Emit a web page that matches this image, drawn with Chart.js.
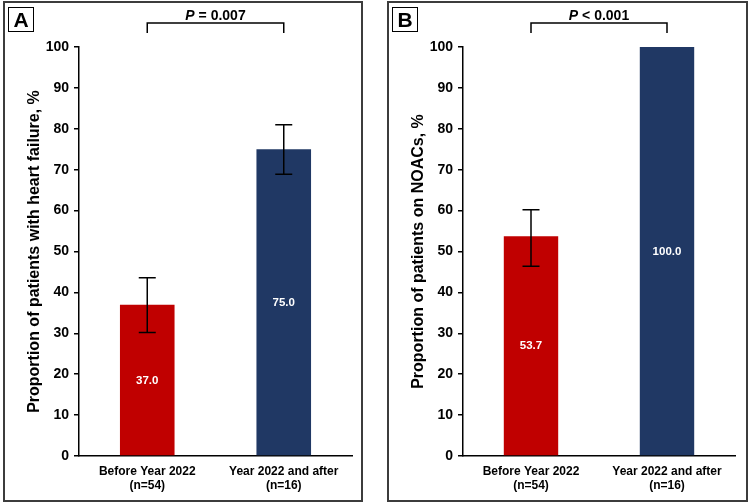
<!DOCTYPE html>
<html>
<head>
<meta charset="utf-8">
<script src="https://cdn.jsdelivr.net/npm/chart.js@4.4.1/dist/chart.umd.min.js"></script>
<style>
body { margin: 0; background: #fff; width: 750px; height: 504px; position: relative; overflow: hidden; font-family: "Liberation Sans", Arial, sans-serif; }
.panel { position: absolute; top: 1px; height: 497px; border: 2px solid #3c3c3c; background: #fff; }
#pa { left: 3px; width: 356px; }
#pb { left: 387px; width: 357px; }
.panel canvas { position: absolute; left: 0; top: 0; }
.tag { position: absolute; left: 3px; top: 4px; width: 24px; height: 23px; border: 1.5px solid #000; font-weight: bold; font-size: 21px; line-height: 24px; text-align: center; z-index: 2; }
</style>
</head>
<body>
<div class="panel" id="pa"><div class="tag">A</div><canvas id="chartA" width="356" height="497"></canvas></div>
<div class="panel" id="pb"><div class="tag">B</div><canvas id="chartB" width="357" height="497"></canvas></div>
<script>
var categories = [['Before Year 2022', '(n=54)'], ['Year 2022 and after', '(n=16)']];
var barColors = ['rgb(192, 0, 0)', 'rgb(32, 56, 100)'];

// panel A - heart failure
var hfValues = [37.0, 75.0];
var hfLow = [30.2, 68.9];
var hfHigh = [43.6, 81.0];
var hfP = '= 0.007';

// panel B - NOACs
var noacValues = [53.7, 100.0];
var noacLow = [46.4, null];
var noacHigh = [60.2, null];
var noacP = '< 0.001';

var yTicks = [0, 10, 20, 30, 40, 50, 60, 70, 80, 90, 100];

var FONT = '"Liberation Sans", Arial, sans-serif';

var extras = {
    id: 'extras',
    afterDatasetsDraw: function(chart, args, opts) {
        var ctx = chart.ctx;
        var xs = chart.scales.x, ys = chart.scales.y;
        var meta = chart.getDatasetMeta(0);
        ctx.save();
        ctx.strokeStyle = '#000';
        ctx.lineWidth = 1.5;
        // error bars
        opts.low.forEach(function(lo, i) {
            if (lo === null) return;
            var x = meta.data[i].x;
            var y1 = ys.getPixelForValue(lo), y2 = ys.getPixelForValue(opts.high[i]);
            ctx.beginPath();
            ctx.moveTo(x, y1); ctx.lineTo(x, y2);
            ctx.moveTo(x - 8.5, y1); ctx.lineTo(x + 8.5, y1);
            ctx.moveTo(x - 8.5, y2); ctx.lineTo(x + 8.5, y2);
            ctx.stroke();
        });
        // value labels in the middle of the bars
        ctx.fillStyle = '#fff';
        ctx.font = 'bold 11.5px ' + FONT;
        ctx.textAlign = 'center';
        ctx.textBaseline = 'middle';
        opts.values.forEach(function(v, i) {
            ctx.fillText(v.toFixed(1), meta.data[i].x, ys.getPixelForValue(v / 2));
        });
        // bracket + p value
        var xa = xs.getPixelForValue(0), xb = xs.getPixelForValue(1);
        ctx.beginPath();
        ctx.moveTo(xa, 30); ctx.lineTo(xa, 20); ctx.lineTo(xb, 20); ctx.lineTo(xb, 30);
        ctx.stroke();
        ctx.fillStyle = '#000';
        ctx.textAlign = 'left';
        ctx.textBaseline = 'alphabetic';
        ctx.font = 'italic bold 14px ' + FONT;
        var wP = ctx.measureText('P').width;
        ctx.font = 'bold 14px ' + FONT;
        var rest = ' ' + opts.p;
        var wR = ctx.measureText(rest).width;
        var sx = (xa + xb) / 2 - (wP + wR) / 2;
        ctx.font = 'italic bold 14px ' + FONT;
        ctx.fillText('P', sx, 17);
        ctx.font = 'bold 14px ' + FONT;
        ctx.fillText(rest, sx + wP, 17);
        ctx.restore();
    }
};

function makeConfig(values, low, high, p, title, rightPad) {
    return {
        type: 'bar',
        data: {
            labels: categories,
            datasets: [{
                data: values,
                backgroundColor: barColors,
                borderWidth: 0,
                barPercentage: 0.4,
                categoryPercentage: 1.0
            }]
        },
        options: {
            responsive: false,
            animation: false,
            layout: { padding: { top: 44, right: rightPad, left: 0, bottom: 0 } },
            plugins: {
                legend: { display: false },
                tooltip: { enabled: false },
                extras: { values: values, low: low, high: high, p: p }
            },
            scales: {
                x: {
                    grid: { display: false, drawTicks: false },
                    border: { color: '#000', width: 1.5 },
                    ticks: { color: '#000', padding: 8, font: { family: FONT, size: 12, weight: 'bold', lineHeight: 1.2 } },
                    afterFit: function(s) { s.height = 44; }
                },
                y: {
                    min: 0,
                    max: 100,
                    afterBuildTicks: function(s) { s.ticks = yTicks.map(function(v) { return { value: v }; }); },
                    grid: { drawOnChartArea: false, drawTicks: true, tickLength: 5, color: '#000', lineWidth: 1.5 },
                    border: { color: '#000', width: 1.5 },
                    ticks: { color: '#000', padding: 5, font: { family: FONT, size: 14, weight: 'bold' } },
                    title: { display: true, text: title, color: '#000', padding: { top: 20, bottom: 0 }, font: { family: FONT, size: 16, weight: 'bold' } },
                    afterFit: function(s) { s.width = 74; }
                }
            }
        },
        plugins: [extras]
    };
}

var chartA = new Chart(document.getElementById('chartA').getContext('2d'),
    makeConfig(hfValues, hfLow, hfHigh, hfP, 'Proportion of patients with heart failure, %', 9));
var chartB = new Chart(document.getElementById('chartB').getContext('2d'),
    makeConfig(noacValues, noacLow, noacHigh, noacP, 'Proportion of patients on NOACs, %', 11));
</script>
</body>
</html>
